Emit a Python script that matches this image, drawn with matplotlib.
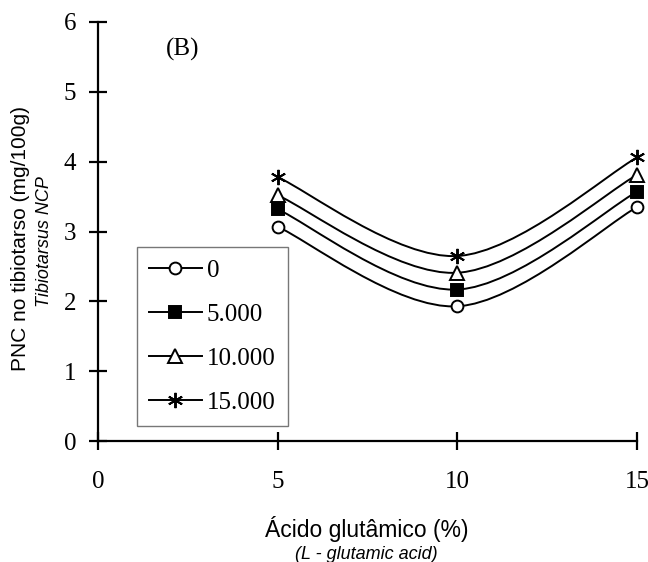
import matplotlib
matplotlib.use("Agg")
import matplotlib.pyplot as plt
import numpy as np
from matplotlib.lines import Line2D
from matplotlib.patches import PathPatch
from matplotlib.path import Path

# glutamic acid levels (%)
acid = [5, 10, 15]
# tibiotarsus NCP (mg/100g) per vitamin D level
ncp_0 = [3.07, 1.93, 3.35]
ncp_5000 = [3.32, 2.17, 3.57]
ncp_10000 = [3.52, 2.41, 3.81]
ncp_15000 = [3.78, 2.65, 4.06]
series_labels = ["0", "5.000", "10.000", "15.000"]

serif = "Liberation Serif"
sans = "Liberation Sans"


def smooth_path(xs, ys):
    # Excel style smoothed line (Catmull-Rom as cubic Bezier)
    pts = np.column_stack([xs, ys]).astype(float)
    n = len(pts)
    verts = [pts[0]]
    codes = [Path.MOVETO]
    for i in range(n - 1):
        p0 = pts[max(i - 1, 0)]
        p1 = pts[i]
        p2 = pts[i + 1]
        p3 = pts[min(i + 2, n - 1)]
        verts += [p1 + (p2 - p0) / 6.0, p2 - (p3 - p1) / 6.0, p2]
        codes += [Path.CURVE4] * 3
    return Path(verts, codes)


fig = plt.figure(figsize=(6.48, 5.62), dpi=100)
ax = fig.add_axes([0.151, 0.215, 0.832, 0.746])

styles = [
    dict(marker="o", mfc="white", ms=8.5),
    dict(marker="s", mfc="black", ms=8.5),
    dict(marker="^", mfc="white", ms=9.5),
    dict(marker=(6, 2, 0), mfc="black", ms=11),
]
all_series = [ncp_0, ncp_5000, ncp_10000, ncp_15000]

handles = []
for ys, st, lab in zip(all_series, styles, series_labels):
    ax.add_patch(PathPatch(smooth_path(acid, ys), fill=False, lw=1.4,
                           edgecolor="black", clip_on=False))
    ax.plot(acid, ys, linestyle="none", color="black", mec="black", mew=1.4,
            clip_on=False, zorder=3, **st)
    handles.append(Line2D([], [], color="black", lw=1.4, mec="black",
                          mew=1.4, label=lab, **st))

ax.set_xlim(0, 15)
ax.set_ylim(0, 6)
ax.set_xticks([0, 5, 10, 15])
ax.set_yticks(range(7))

for side in ["top", "right"]:
    ax.spines[side].set_visible(False)
for side in ["left", "bottom"]:
    ax.spines[side].set_linewidth(1.6)

ax.tick_params(direction="inout", length=13, width=1.6, labelsize=18)
ax.tick_params(axis="x", pad=15)
ax.tick_params(axis="y", pad=9)
for t in ax.get_xticklabels() + ax.get_yticklabels():
    t.set_fontfamily(serif)

ax.text(2.35, 5.6, "(B)", fontsize=18, fontfamily=serif, ha="center", va="center")

leg = ax.legend(handles=handles, loc="lower left", bbox_to_anchor=(0.072, 0.036),
                prop={"family": serif, "size": 18}, frameon=True, fancybox=False,
                edgecolor="#555555", handlelength=2.1, handletextpad=0.2,
                labelspacing=0.86, borderpad=0.5, borderaxespad=0)
leg.get_frame().set_linewidth(1.0)

fig.text(0.566, 0.058, "Ácido glutâmico (%)", fontsize=16.5, fontfamily=sans,
         ha="center", va="center")
fig.text(0.566, 0.013, "(L - glutamic acid)", fontsize=13, fontfamily=sans,
         style="italic", ha="center", va="center")
fig.text(0.032, 0.575, "PNC no tibiotarso (mg/100g)", fontsize=15, fontfamily=sans,
         rotation=90, ha="center", va="center")
fig.text(0.068, 0.57, "Tibiotarsus NCP", fontsize=13, fontfamily=sans,
         style="italic", rotation=90, ha="center", va="center")

fig.savefig("out.png", dpi=100)
